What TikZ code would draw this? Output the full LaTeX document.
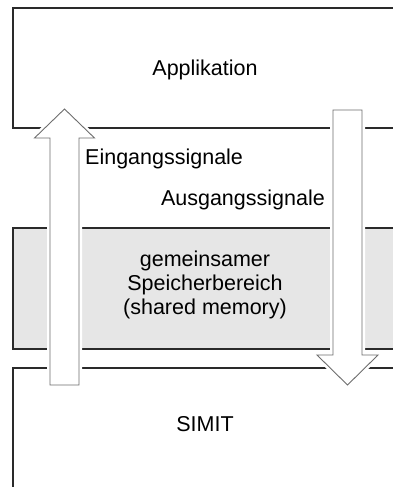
\documentclass[tikz,border=0pt]{standalone}
\usepackage{fontspec}
\setmainfont{Liberation Sans}
\usetikzlibrary{positioning, calc}
\definecolor{framegray}{HTML}{2A2A2A}
\definecolor{arrowgray}{HTML}{6E6E6E}
\definecolor{memgray}{HTML}{E6E6E6}

\tikzset{
  frame/.style={draw=framegray, line width=2pt},
  sigarrow/.style={fill=white, draw=arrowgray, line width=0.9pt, line join=miter},
  halo/.style={draw=white, line width=6pt, line join=miter},
  lbl/.style={inner sep=0pt, align=center, font=\fontsize{21.5}{24}\selectfont}
}

\begin{document}
\begin{tikzpicture}[x=1pt, y=-1pt]
  \useasboundingbox (0,0) rectangle (393,487);

  % Bereiche
  \fill[memgray] (13,228) rectangle (393,349);
  \draw[frame] (393,8) -- (13,8) -- (13,128) -- (393,128);
  \draw[frame] (393,228) -- (13,228) -- (13,349) -- (393,349);
  \draw[frame] (393,368) -- (13,368) -- (13,487);

  % Texte
  \node[lbl] (app) at (205,70) {Applikation};
  \node[lbl] (mem) at (205,285) {gemeinsamer\\Speicherbereich\\(shared memory)};
  \node[lbl] (simit) at (205,424) {SIMIT};

  % Signalpfeile
  \coordinate (inBase) at (64.5,385);
  \coordinate (inTip) at (64.5,109);
  \coordinate (outBase) at (347.5,110);
  \coordinate (outTip) at (347.5,385);

  \foreach \st in {halo, sigarrow} {
    \draw[\st] ($(inBase)+(-14.5,0)$) -- ($(inTip)+(-14.5,29)$) -- ($(inTip)+(-30,29)$)
      -- (inTip) -- ($(inTip)+(30,29)$) -- ($(inTip)+(14.5,29)$) -- ($(inBase)+(14.5,0)$) -- cycle;
    \draw[\st] ($(outBase)+(-14.5,0)$) -- ($(outTip)+(-14.5,-30)$) -- ($(outTip)+(-30.5,-30)$)
      -- (outTip) -- ($(outTip)+(30.5,-30)$) -- ($(outTip)+(14.5,-30)$) -- ($(outBase)+(14.5,0)$) -- cycle;
  }

  \node[lbl, anchor=west] (ein) at (85,159) {Eingangssignale};
  \node[lbl, anchor=east] (aus) at (325,200) {Ausgangssignale};
\end{tikzpicture}
\end{document}
